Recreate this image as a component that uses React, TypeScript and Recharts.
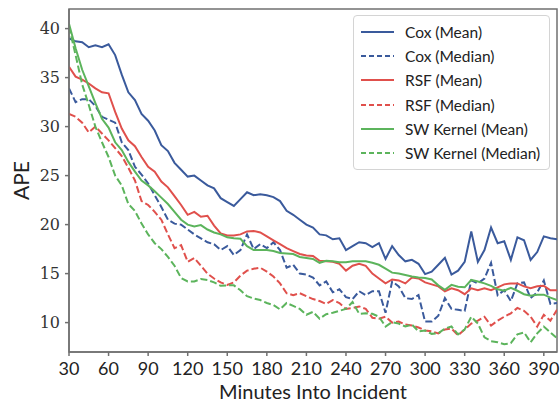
import React from 'react';
import { LineChart, Line, XAxis, YAxis, Legend, ReferenceArea } from 'recharts';

const minutes = [
  30, 35, 40, 45, 50, 55, 60, 65, 70, 75, 80, 85, 90, 95, 100, 105, 110, 115, 120, 125,
  130, 135, 140, 145, 150, 155, 160, 165, 170, 175, 180, 185, 190, 195, 200, 205, 210, 215, 220, 225,
  230, 235, 240, 245, 250, 255, 260, 265, 270, 275, 280, 285, 290, 295, 300, 305, 310, 315, 320, 325,
  330, 335, 340, 345, 350, 355, 360, 365, 370, 375, 380, 385, 390, 395, 400,
];

const coxMean = [
  39.0, 38.7, 38.6, 38.1, 38.3, 38.1, 38.4, 37.3, 35.3, 33.5, 32.7, 31.3, 30.6, 29.6, 28.1, 27.5, 26.3, 25.6, 24.9, 25.0,
  24.5, 24.0, 23.7, 22.7, 22.3, 21.9, 22.6, 23.3, 23.0, 23.1, 23.0, 22.8, 22.4, 21.4, 21.0, 20.5, 20.0, 19.7, 19.0, 18.9,
  18.5, 18.6, 17.4, 17.8, 18.2, 18.1, 17.7, 18.1, 16.5, 17.8, 16.9, 16.25, 16.4, 16.0, 14.95, 15.2, 15.9, 16.6, 14.9, 15.3,
  16.2, 19.3, 16.2, 17.4, 19.7, 18.1, 18.3, 16.4, 18.7, 18.4, 16.4, 17.2, 18.8, 18.6, 18.5,
];

const coxMedian = [
  33.9, 32.5, 32.8, 32.8, 32.1, 31.0, 30.7, 30.4, 28.4, 27.6, 25.9, 25.1, 24.2, 23.0, 21.8, 20.5, 20.1, 20.0, 19.5, 19.0,
  18.6, 18.2, 18.0, 17.4, 17.8, 16.9, 17.4, 19.0, 17.5, 18.0, 17.6, 18.2, 17.4, 15.6, 15.9, 15.0, 14.9, 14.6, 13.8, 14.2,
  13.1, 13.4, 12.6, 12.4, 13.2, 12.8, 13.2, 13.2, 11.0, 14.2, 13.7, 12.5, 12.4, 12.8, 10.1, 10.1, 10.7, 12.5, 11.4, 11.3,
  11.2, 14.3, 14.0, 14.5, 16.1, 12.8, 13.3, 12.2, 14.0, 14.1, 12.5, 13.1, 14.3, 11.9, 12.0,
];

const rsfMean = [
  36.1, 35.1, 34.8, 34.4, 33.9, 33.5, 33.4, 31.5, 29.8, 28.6, 28.0, 26.9, 25.9, 25.4, 24.4, 23.8, 22.9, 22.0, 21.0, 21.3,
  20.8, 20.9, 19.9, 19.1, 18.9, 18.9, 19.0, 19.3, 19.35, 19.2, 18.8, 18.4, 18.0, 17.6, 17.3, 17.0, 16.85, 16.8, 16.3, 16.25,
  16.2, 16.0, 15.3, 15.8, 16.0, 15.8, 15.0, 14.5, 14.0, 14.4, 14.3, 14.0, 14.6, 14.5, 14.1, 13.9, 13.7, 13.2, 13.5, 13.3,
  12.9, 13.5, 13.3, 13.5, 13.3, 13.6, 13.9, 14.0, 14.0, 13.7, 13.5, 13.7, 13.75, 13.3, 13.3,
];

const rsfMedian = [
  31.3, 31.0, 30.4, 29.4, 30.0, 29.3, 28.6, 27.8, 27.0, 25.8, 24.5, 22.4, 22.0, 21.3, 20.5, 19.0, 17.6, 17.9, 16.2, 16.6,
  15.8, 15.0, 14.5, 14.1, 13.85, 14.1, 14.8, 15.3, 15.5, 15.6, 15.2, 14.7, 14.0, 13.0, 12.8, 13.0, 12.7, 12.4, 12.2, 11.9,
  12.3, 12.0, 11.4, 11.5, 11.65, 11.4, 10.5, 10.4, 10.6, 10.0, 10.1, 9.8, 9.7, 9.5, 9.2, 9.1, 8.9, 9.3, 9.4, 8.7,
  9.3, 9.9, 10.2, 10.6, 9.7, 10.2, 10.6, 10.95, 11.5, 11.2, 10.6, 9.6, 10.8, 10.2, 11.3,
];

const swMean = [
  40.5, 38.0, 35.8, 34.1, 32.4, 30.8, 29.9, 28.4, 27.6, 26.4, 25.4, 24.5, 24.0, 23.4, 22.75, 22.1, 21.3, 20.5, 20.0, 19.8,
  19.95, 19.5, 19.2, 19.0, 18.7, 18.6, 18.55, 17.8, 17.4, 17.4, 17.4, 17.3, 17.1, 17.05, 17.0, 16.7, 16.6, 16.5, 16.1, 16.3,
  16.25, 16.15, 16.15, 16.25, 16.25, 16.25, 16.1, 15.9, 15.5, 15.1, 15.0, 14.85, 14.7, 14.6, 14.55, 14.4, 13.8, 13.35, 13.85, 13.65,
  13.6, 14.35, 14.2, 14.0, 13.75, 13.4, 13.25, 13.55, 13.25, 12.9, 12.75, 12.85, 12.85, 12.55, 12.3,
];

const swMedian = [
  40.2, 37.3, 34.3, 32.2, 30.0, 28.4, 26.9, 25.0, 24.0, 22.1, 21.4, 20.1, 19.0, 18.1, 17.5, 16.7, 15.8, 14.55, 14.2, 14.2,
  14.45, 14.35, 14.1, 13.75, 13.8, 13.8, 13.3, 12.7, 12.45, 12.3, 12.0, 11.8, 11.35, 12.0, 11.7, 11.4, 10.8, 11.1, 10.4, 10.85,
  11.0, 11.2, 11.4, 12.1, 10.9, 10.95, 10.9, 10.6, 9.6, 10.05, 9.9, 9.6, 9.8, 9.1, 9.2, 8.85, 8.9, 9.4, 9.6, 8.8,
  9.3, 10.6, 9.9, 8.5, 8.1, 8.0, 7.8, 7.9, 8.8, 9.0, 8.0, 8.9, 9.6, 9.0, 8.4,
];

const xTicks = [30, 60, 90, 120, 150, 180, 210, 240, 270, 300, 330, 360, 390];
const yTicks = [10, 15, 20, 25, 30, 35, 40];

const BLUE = '#3a5a9c';
const RED = '#e0504c';
const GREEN = '#5cb45c';

const series = [
  { key: 'coxMean', name: 'Cox (Mean)', color: BLUE, dashed: false },
  { key: 'coxMedian', name: 'Cox (Median)', color: BLUE, dashed: true },
  { key: 'rsfMean', name: 'RSF (Mean)', color: RED, dashed: false },
  { key: 'rsfMedian', name: 'RSF (Median)', color: RED, dashed: true },
  { key: 'swMean', name: 'SW Kernel (Mean)', color: GREEN, dashed: false },
  { key: 'swMedian', name: 'SW Kernel (Median)', color: GREEN, dashed: true },
];

const data = minutes.map((m, i) => ({
  minute: m,
  coxMean: coxMean[i],
  coxMedian: coxMedian[i],
  rsfMean: rsfMean[i],
  rsfMedian: rsfMedian[i],
  swMean: swMean[i],
  swMedian: swMedian[i],
}));

const SPINE = '#707070';
const DASH = '7 3';

const LegendBox = () => (
  <div
    style={{
      border: '1px solid #d4d4d4',
      borderRadius: 4,
      background: 'rgba(255,255,255,0.85)',
      padding: '4px 0 4px 0',
      fontFamily: 'Lato, sans-serif',
      fontSize: 15.5,
      color: '#222',
    }}
  >
    {series.map((s) => (
      <div key={s.key} style={{ display: 'flex', alignItems: 'center', height: 24.2 }}>
        <svg width={45} height={10} style={{ marginLeft: 6 }}>
          <line
            x1={1}
            y1={5}
            x2={34}
            y2={5}
            stroke={s.color}
            strokeWidth={2}
            strokeDasharray={s.dashed ? '5 3' : undefined}
          />
        </svg>
        <span>{s.name}</span>
      </div>
    ))}
  </div>
);

export default function App() {
  return (
    <div style={{ position: 'absolute', left: 0, top: 0, width: 560, height: 404, background: '#fff' }}>
      <style>{'body{margin:0}'}</style>
      <LineChart width={560} height={404} data={data} margin={{ top: 9, right: 3, left: 0, bottom: 0 }}>
        <XAxis
          dataKey="minute"
          type="number"
          domain={[30, 400]}
          ticks={xTicks}
          allowDataOverflow
          height={52}
          stroke={SPINE}
          strokeWidth={1.5}
          tickSize={4}
          tickMargin={6}
          tick={{ fill: '#222', fontFamily: 'Lato, sans-serif', fontSize: 18 }}
          label={{
            value: 'Minutes Into Incident',
            position: 'insideBottom',
            offset: 5,
            style: { fill: '#222', fontFamily: 'Lato, sans-serif', fontSize: 20 },
          }}
        />
        <YAxis
          type="number"
          domain={[7, 42]}
          ticks={yTicks}
          allowDataOverflow
          width={69}
          stroke={SPINE}
          strokeWidth={1.5}
          tickSize={4}
          tickMargin={5}
          tick={{ fill: '#333', fontFamily: '"DejaVu Serif", serif', fontSize: 16 }}
          label={{
            value: 'APE',
            angle: -90,
            position: 'insideLeft',
            offset: 22,
            style: { textAnchor: 'middle', fill: '#222', fontFamily: 'Lato, sans-serif', fontSize: 21 },
          }}
        />
        <ReferenceArea x1={30} x2={400} y1={7} y2={42} fill="none" stroke={SPINE} strokeWidth={1.5} />
        {series.map((s) => (
          <Line
            key={s.key}
            type="linear"
            dataKey={s.key}
            name={s.name}
            stroke={s.color}
            strokeWidth={2}
            strokeDasharray={s.dashed ? DASH : undefined}
            dot={false}
            activeDot={false}
            isAnimationActive={false}
          />
        ))}
        <Legend
          layout="vertical"
          align="center"
          verticalAlign="middle"
          content={<LegendBox />}
          wrapperStyle={{ position: 'absolute', top: 15, left: 353, width: 197 }}
        />
      </LineChart>
    </div>
  );
}
